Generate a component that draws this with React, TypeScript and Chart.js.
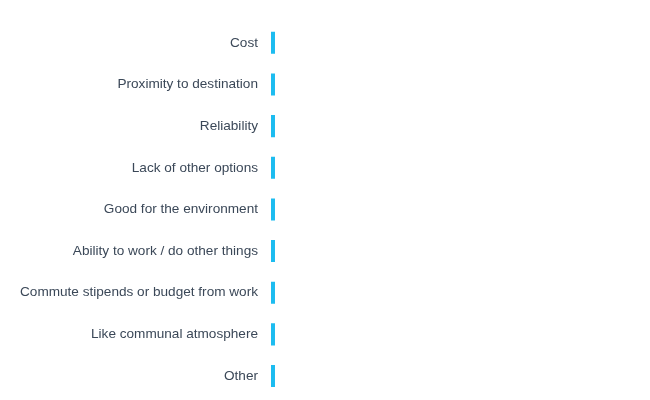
import { Chart, registerables } from "chart.js"
import { useEffect, useRef } from "react"

Chart.register(...registerables)

const REASONS = [
	"Cost",
	"Proximity to destination",
	"Reliability",
	"Lack of other options",
	"Good for the environment",
	"Ability to work / do other things",
	"Commute stipends or budget from work",
	"Like communal atmosphere",
	"Other",
]

const RESPONSES = [0, 0, 0, 0, 0, 0, 0, 0, 0]

export default function App() {
	const canvasRef = useRef<HTMLCanvasElement>(null)

	useEffect(() => {
		document.body.style.margin = "0"
		if (!canvasRef.current) return
		const chart = new Chart(canvasRef.current, {
			type: "bar",
			data: {
				labels: REASONS,
				datasets: [
					{
						data: RESPONSES,
						backgroundColor: "#1cbcf0",
						borderWidth: 0,
						minBarLength: 4,
						barPercentage: 0.53,
						categoryPercentage: 1,
					},
				],
			},
			options: {
				indexAxis: "y",
				animation: false,
				responsive: false,
				layout: { padding: { top: 22, bottom: -25, left: 15, right: 20 } },
				plugins: { legend: { display: false }, tooltip: { enabled: false } },
				scales: {
					x: { display: false, min: 0, max: 100 },
					y: {
						grid: { display: false },
						border: { display: false },
						ticks: {
							padding: 5,
							color: "#3b4858",
							font: { family: '"Liberation Sans", Arial, sans-serif', size: 13.6 },
						},
					},
				},
			},
		})
		return () => {
			chart.destroy()
		}
	}, [])

	return (
		<div style={{ width: 650, height: 400, overflow: "hidden" }}>
			<canvas ref={canvasRef} width={650} height={410} />
		</div>
	)
}
